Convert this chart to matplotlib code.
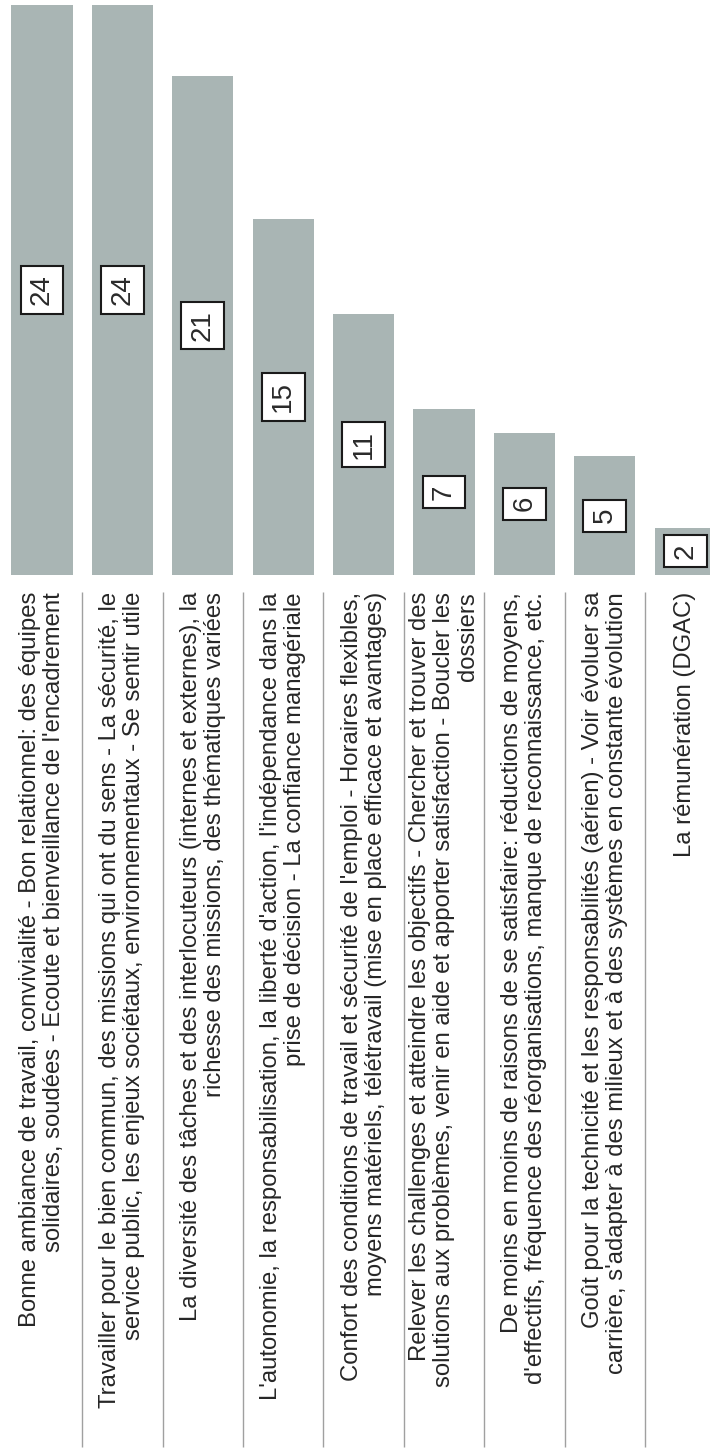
import matplotlib.pyplot as plt
from matplotlib.transforms import blended_transform_factory

plt.rcParams['font.family'] = ['Liberation Sans', 'DejaVu Sans']

labels = [
    "Bonne ambiance de travail, convivialité - Bon relationnel: des équipes\n"
    "solidaires, soudées - Ecoute et bienveillance de l'encadrement",
    "Travailler pour le bien commun, des missions qui ont du sens - La sécurité, le\n"
    "service public, les enjeux sociétaux, environnementaux - Se sentir utile",
    "La diversité des tâches et des interlocuteurs (internes et externes), la\n"
    "richesse des missions, des thématiques variées",
    "L'autonomie, la responsabilisation, la liberté d'action, l'indépendance dans la\n"
    "prise de décision - La confiance managériale",
    "Confort des conditions de travail et sécurité de l'emploi - Horaires flexibles,\n"
    "moyens matériels, télétravail (mise en place efficace et avantages)",
    "Relever les challenges et atteindre les objectifs - Chercher et trouver des\n"
    "solutions aux problèmes, venir en aide et apporter satisfaction - Boucler les\n"
    "dossiers",
    "De moins en moins de raisons de se satisfaire: réductions de moyens,\n"
    "d'effectifs, fréquence des réorganisations, manque de reconnaissance, etc.",
    "Goût pour la technicité et les responsabilités (aérien) - Voir évoluer sa\n"
    "carrière, s'adapter à des milieux et à des systèmes en constante évolution",
    "La rémunération (DGAC)",
]
counts = [24, 24, 21, 15, 11, 7, 6, 5, 2]

W, H = 710, 1450
base_px = 575      # bar baseline, px from top
label_top_px = 592  # top of label block
pitch = 80.4
first = 42.0
px_per_unit = 23.75

fig = plt.figure(figsize=(W / 100, H / 100), dpi=100)
fig.patch.set_facecolor('white')
ax = fig.add_axes([0, (H - base_px) / H, 1, base_px / H])
ax.set_xlim(-first / pitch, (W - first) / pitch)
ax.set_ylim(0, base_px / px_per_unit)
ax.axis('off')

x = list(range(len(counts)))
ax.bar(x, counts, width=0.76, color='#a9b5b4', edgecolor='none')

for xi, v in zip(x, counts):
    ax.text(xi, v / 2, str(v), rotation=90, ha='center', va='center',
            fontsize=20, color='#2a2a2a',
            bbox=dict(boxstyle='square,pad=0.3', fc='white', ec='#1a1a1a', lw=1.5))

tr = blended_transform_factory(ax.transData, fig.transFigure)
ytop = (H - label_top_px) / H
for xi, lab in zip(x, labels):
    ax.text(xi, ytop, lab, transform=tr, rotation=90, ha='center', va='top',
            multialignment='right', fontsize=17.2, color='#262626',
            linespacing=1.12, clip_on=False)

# row separators between the labels
ax.vlines([i + 0.5 for i in range(len(counts) - 1)], (H - 1447) / H, ytop,
          transform=tr, colors='#a0a0a0', lw=1.0, clip_on=False)

fig.savefig('out.png', dpi=100, facecolor='white')
